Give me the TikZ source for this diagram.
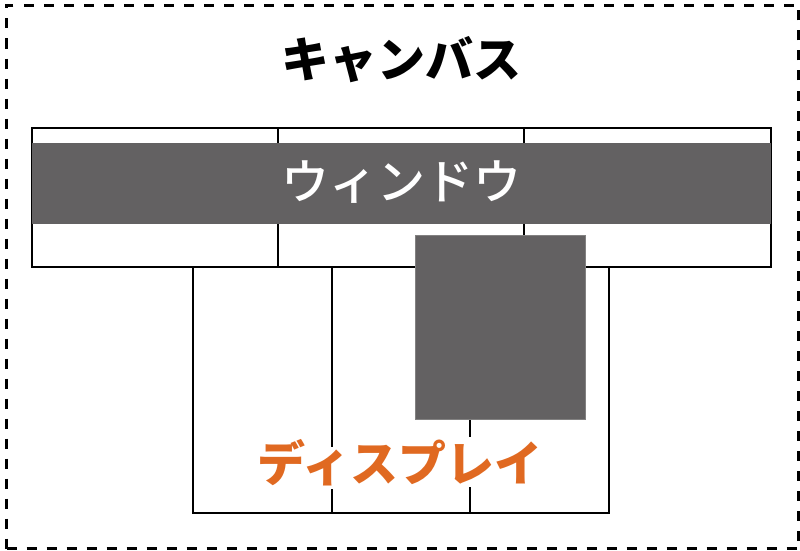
\documentclass[tikz,border=0pt]{standalone}
\usepackage{fontspec}
\newfontfamily\cjk{Noto Sans CJK JP}
\newfontfamily\cjkmed{Noto Sans CJK JP Medium}
\definecolor{bandgray}{RGB}{99,97,98}
\definecolor{dispor}{RGB}{224,105,33}
\begin{document}
\begin{tikzpicture}[x=1pt,y=-1pt,
  tablebox/.style={draw=black,line width=1.6pt,anchor=north west,inner sep=0pt,outer sep=0pt},
  darkbox/.style={fill=bandgray,draw=bandgray!80!white,line width=0.6pt,anchor=north west,inner sep=0pt,outer sep=0pt},
  divider/.style={draw=black,line width=1.6pt},
  canvasframe/.style={draw=black,line width=3pt,dash pattern=on 10pt off 10pt}]
\useasboundingbox (0,0) rectangle (800,551);
% canvas frame
\node[canvasframe,anchor=north west,inner sep=0pt,minimum width=792pt,minimum height=543pt] (canvas) at (5,4) {};
\node[font=\cjk\bfseries\fontsize{48}{48}\selectfont,text=black] (title) at (401,60) {キャンバス};
% window table
\node[tablebox,minimum width=739pt,minimum height=139pt] (window) at (32,128) {};
\coordinate (w1t) at (278,128); \coordinate (w1b) at (278,267);
\coordinate (w2t) at (524,128); \coordinate (w2b) at (524,267);
\draw[divider] (w1t) -- (w1b);
\draw[divider] (w2t) -- (w2b);
\node[darkbox,draw=none,minimum width=739pt,minimum height=81pt] (band) at (32,143) {};
\node[font=\cjkmed\fontsize{48}{48}\selectfont,text=white] (wlabel) at (401,182) {ウィンドウ};
% display table
\node[tablebox,minimum width=416pt,minimum height=246pt] (display) at (193,267) {};
\coordinate (d1t) at (332,267); \coordinate (d1m) at (332,447);
\coordinate (d1n) at (332,489); \coordinate (d1b) at (332,514);
\coordinate (d2t) at (470,267); \coordinate (d2m) at (470,437);
\coordinate (d2n) at (470,487); \coordinate (d2b) at (470,514);
\draw[divider] (d1t) -- (d1m);
\draw[divider] (d1n) -- (d1b);
\draw[divider] (d2t) -- (d2m);
\draw[divider] (d2n) -- (d2b);
\node[darkbox,minimum width=170pt,minimum height=184pt] (screen) at (415,235) {};
\node[font=\cjk\bfseries\fontsize{48}{48}\selectfont,text=dispor] (dlabel) at (400,463) {ディスプレイ};
\end{tikzpicture}
\end{document}
